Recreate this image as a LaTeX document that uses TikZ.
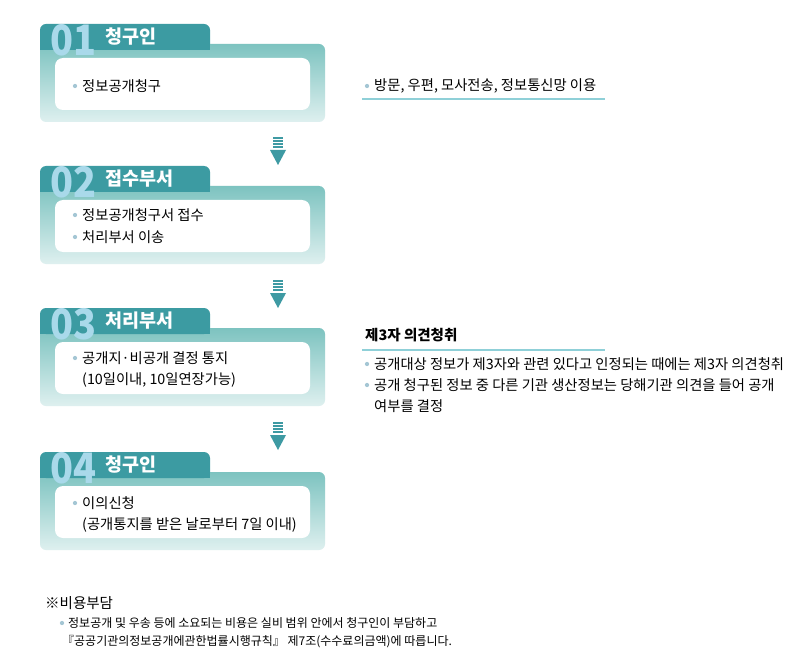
\documentclass[tikz,border=0pt]{standalone}
\usepackage{fontspec}
\setmainfont{Noto Sans CJK KR}
\begin{document}
\begin{tikzpicture}[x=1pt,y=-1pt,
  txt/.style={anchor=west,font=\fontsize{14.3}{18}\selectfont,inner sep=0pt,align=left},
  bul/.style={circle,fill=cyan!40!gray!60,inner sep=1.5pt},
  num/.style={anchor=west,font=\fontsize{42}{42}\selectfont\bfseries,inner sep=0pt,xscale=0.9},
  ttl/.style={anchor=west,font=\fontsize{18.5}{18}\selectfont\bfseries,text=white,inner sep=0pt}]
\definecolor{tabc}{HTML}{3C9BA2}
\definecolor{boxc}{HTML}{7DC3C0}
\definecolor{numc}{HTML}{A9D9EA}
\definecolor{linec}{HTML}{8FD0D8}
\definecolor{arr}{HTML}{3E9AA3}
\useasboundingbox (0,0) rectangle (800,663);
\fill[white] (0,0) rectangle (800,663);
\foreach \i/\y/\n/\t in {1/24/01/청구인,2/166/02/접수부서,3/308/03/처리부서,4/452/04/청구인}{
  \shade[top color=boxc,bottom color=boxc!25,rounded corners=6pt] (40,\y+20) rectangle (325,\y+98);
  \fill[tabc,rounded corners=6pt] (40,\y) rectangle (210,\y+26);
  \fill[tabc] (40,\y+18) rectangle (210,\y+26);
  \fill[white,rounded corners=8pt] (55,\y+34) rectangle (310,\y+86);
  \node[num,text=numc] (n\i) at (50,\y+16) {\n};
  \node[ttl] (t\i) at (105,\y+13) {\t};
}
\node[bul] (b1) at (75,86) {}; \node[txt] (l1) at (82,86) {정보공개청구};
\node[bul] (b2) at (75,215) {}; \node[txt] (l2) at (82,215) {정보공개청구서 접수};
\node[bul] (b3) at (75,237) {}; \node[txt] (l3) at (82,237) {처리부서 이송};
\node[bul] (b4) at (75,358) {}; \node[txt] (l4) at (82,358) {공개지·비공개 결정 통지};
\node[txt] (l5) at (82,380) {(10일이내, 10일연장가능)};
\node[bul] (b6) at (75,503) {}; \node[txt] (l6) at (82,503) {이의신청};
\node[txt] (l7) at (82,525) {(공개통지를 받은 날로부터 7일 이내)};
\foreach \a/\y in {1/137,2/280,3/422}{
  \foreach \k in {0,3,6,9} \fill[arr] (273,\y+\k) rectangle (283,\y+\k+2);
  \fill[arr] (270,\y+13) -- (286,\y+13) -- (278,\y+28) -- cycle;
  \coordinate (a\a) at (278,\y);
}
\node[bul] (r1) at (367,86) {}; \node[txt] (rt1) at (374,86) {방문, 우편, 모사전송, 정보통신망 이용};
\draw[linec,line width=1.2pt] (362,99) -- (605,99);
\node[txt,font=\fontsize{14.5}{18}\selectfont\bfseries] (h3) at (365,335) {제3자 의견청취};
\draw[linec,line width=1.2pt] (362,350) -- (605,350);
\node[bul] (r2) at (367,364) {}; \node[txt] (rt2) at (374,364) {공개대상 정보가 제3자와 관련 있다고 인정되는 때에는 제3자 의견청취};
\node[bul] (r3) at (367,385) {}; \node[txt] (rt3) at (374,385) {공개 청구된 정보 중 다른 기관 생산정보는 당해기관 의견을 들어 공개};
\node[txt] (rt4) at (374,406) {여부를 결정};
\node[txt,font=\fontsize{14.5}{18}\selectfont] (c0) at (45,603) {※비용부담};
\node[bul] (c1) at (62,623) {}; \node[txt,font=\fontsize{12}{16}\selectfont] (ct1) at (68,623) {정보공개 및 우송 등에 소요되는 비용은 실비 범위 안에서 청구인이 부담하고};
\node[txt,font=\fontsize{12}{16}\selectfont] (ct2) at (62,642) {『공공기관의정보공개에관한법률시행규칙』 제7조(수수료의금액)에 따릅니다.};
\end{tikzpicture}
\end{document}
